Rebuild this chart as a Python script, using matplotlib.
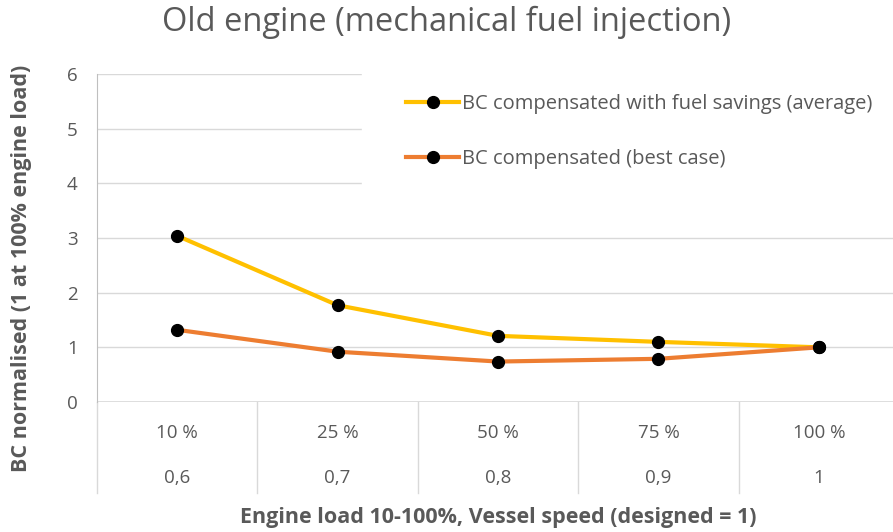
import matplotlib.pyplot as plt
import numpy as np

plt.rcParams['font.family'] = ['Open Sans', 'DejaVu Sans']

# data
engine_load = ['10 %', '25 %', '50 %', '75 %', '100 %']
vessel_speed = ['0,6', '0,7', '0,8', '0,9', '1']
bc_fuel_savings = [3.04, 1.77, 1.21, 1.10, 1.00]
bc_best_case = [1.32, 0.92, 0.74, 0.79, 1.00]

grey = '#595959'
W, H = 893, 532

fig = plt.figure(figsize=(W / 100, H / 100), dpi=100)
ax = fig.add_axes([97 / W, 1 - 402 / H, 1 - 97 / W, (402 - 74) / H])

x = np.arange(len(engine_load))
ax.plot(x, bc_fuel_savings, color='#FFC000', lw=3, marker='o', ms=8.5,
        mfc='black', mec='black', label='BC compensated with fuel savings (average)', zorder=3)
ax.plot(x, bc_best_case, color='#ED7D31', lw=3, marker='o', ms=8.5,
        mfc='black', mec='black', label='BC compensated (best case)', zorder=3)

ax.set_xlim(-0.5, 4.5 - 6 / 160.5)
ax.set_ylim(0, 6)
ax.set_yticks(range(7))
ax.tick_params(axis='y', length=0, pad=14, labelsize=13.5, labelcolor=grey)
ax.yaxis.grid(True, color='#D9D9D9', lw=1)
ax.set_axisbelow(True)

for s in ['top', 'right', 'bottom']:
    ax.spines[s].set_visible(False)
ax.spines['left'].set_color('#BFBFBF')
ax.axhline(0, color='#D9D9D9', lw=1.2, zorder=1)

# category labels (two rows) and separators
ax.set_xticks(x)
ax.set_xticklabels([])
ax.tick_params(axis='x', length=0)
tr = ax.get_xaxis_transform()
for i in range(len(engine_load)):
    ax.text(x[i], -31 / 328, engine_load[i], transform=tr, ha='center', va='center',
            fontsize=13.5, color=grey)
    ax.text(x[i], -76 / 328, vessel_speed[i], transform=tr, ha='center', va='center',
            fontsize=13.5, color=grey)
for b in np.arange(-0.5, len(engine_load), 1.0):
    ax.plot([b, b], [0, -91 / 328], transform=tr, color='#D9D9D9', lw=1, clip_on=False)

leg = ax.legend(loc='upper left', bbox_to_anchor=(352 / W, 1 - 40 / H),
                bbox_transform=fig.transFigure, frameon=True, fancybox=False,
                framealpha=1, edgecolor='white', facecolor='white', fontsize=14.5,
                borderpad=2.2, labelspacing=1.7, handlelength=2.6, handletextpad=0.15)
for t in leg.get_texts():
    t.set_color(grey)

fig.text(0.5, 1 - 22 / H, 'Old engine (mechanical fuel injection)', ha='center', va='center',
         fontsize=23.5, color=grey)
fig.text(22 / W, 1 - 268 / H, 'BC normalised (1 at 100% engine load)', rotation=90,
         ha='center', va='center', fontsize=15.5, fontweight='bold', color=grey)
fig.text(498 / W, 1 - 518 / H, 'Engine load 10-100%, Vessel speed (designed = 1)',
         ha='center', va='center', fontsize=15.5, fontweight='bold', color=grey)

plt.savefig('out.png', dpi=100)
